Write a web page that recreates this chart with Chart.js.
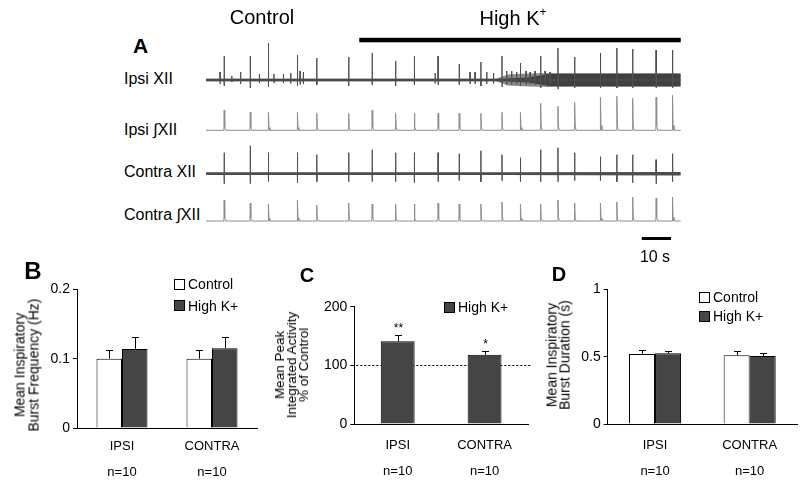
<!DOCTYPE html>
<html>
<head>
<meta charset="utf-8">
<script src="https://cdn.jsdelivr.net/npm/chart.js@4/dist/chart.umd.min.js"></script>
<style>
  html, body { margin:0; padding:0; background:#fff; }
  body { width:800px; height:483px; position:relative; overflow:hidden; font-family:'Liberation Sans', Arial, Helvetica, sans-serif; color:#000; }
  canvas { position:absolute; }
  .t { position:absolute; white-space:nowrap; line-height:1; }
  .c { transform:translate(-50%,-50%); }
  .l { transform:translateY(-50%); }
  .yt { position:absolute; white-space:nowrap; text-align:center; transform:translate(-50%,-50%) rotate(-90deg); }
  .lg { position:absolute; display:flex; align-items:center; transform:translateY(-50%); font-size:14px; line-height:1; white-space:nowrap; }
  .lg i { display:inline-block; width:11px; height:11px; border:1px solid #000; margin-right:3px; box-sizing:border-box; }
</style>
</head>
<body>
<canvas id="traces" width="480" height="250" style="left:206px;top:0px;"></canvas>
<canvas id="chartB" width="265" height="228" style="left:0px;top:255px;"></canvas>
<canvas id="chartC" width="268" height="228" style="left:265px;top:255px;"></canvas>
<canvas id="chartD" width="267" height="228" style="left:533px;top:255px;"></canvas>

<!-- Panel A text -->
<div class="t c" style="left:262px;top:17px;font-size:20px;">Control</div>
<div class="t c" style="left:513px;top:17px;font-size:20px;">High K<sup style="font-size:12px;vertical-align:9px;">+</sup></div>
<div class="t c" style="left:140.5px;top:44.5px;font-size:21px;font-weight:bold;">A</div>
<div class="t l" style="left:124px;top:79px;font-size:16px;">Ipsi XII</div>
<div class="t l" style="left:124px;top:130px;font-size:16px;">Ipsi ∫XII</div>
<div class="t l" style="left:124px;top:172px;font-size:16px;">Contra XII</div>
<div class="t l" style="left:124px;top:215px;font-size:16px;">Contra ∫XII</div>
<div class="t c" style="left:655px;top:257px;font-size:16px;">10 s</div>

<!-- Panel labels -->
<div class="t c" style="left:33px;top:271px;font-size:24px;font-weight:bold;">B</div>
<div class="t c" style="left:307px;top:275px;font-size:20px;font-weight:bold;">C</div>
<div class="t c" style="left:559px;top:274px;font-size:20px;font-weight:bold;">D</div>

<!-- Y titles -->
<div class="yt" style="left:26.5px;top:365px;font-size:14px;line-height:13.5px;">Mean Inspiratory<br>Burst Frequency (Hz)</div>
<div class="yt" style="left:291.7px;top:365px;font-size:13.5px;line-height:12px;">Mean Peak<br>Integrated Activity<br>% of Control</div>
<div class="yt" style="left:557.5px;top:355px;font-size:14px;line-height:12.5px;">Mean Inspiratory<br>Burst Duration (s)</div>

<!-- Legends -->
<div class="lg" style="left:174px;top:284px;"><i style="background:#fff"></i>Control</div>
<div class="lg" style="left:174px;top:305.5px;"><i style="background:#454545"></i>High K+</div>
<div class="lg" style="left:444px;top:307px;"><i style="background:#454545"></i>High K+</div>
<div class="lg" style="left:699px;top:297px;"><i style="background:#fff"></i>Control</div>
<div class="lg" style="left:699px;top:316px;"><i style="background:#454545"></i>High K+</div>

<script>
// ===================== DATA =====================
// Panel A: burst times (s) and amplitudes (arbitrary units)
const burstTimes   = [6.2, 15.1, 21.3, 31.2, 37.8, 48.7, 56.7, 64.7, 71.1, 79.2, 86.4, 93.8, 101.0, 107.3, 114.2, 120.1, 125.8, 134.6, 140.2, 145.6, 153.6, 159.2];
const ipsiRawUp    = [24, 24, 37, 25, 22, 23, 27, 19, 24, 24, 16, 18, 24, 17, 24, 32, 23, 27, 32, 31, 30, 30];
const ipsiRawDown  = [6, 8, 7, 6, 5, 6, 5, 6, 5, 5, 5, 6, 7, 6, 8, 9, 8, 8, 8, 8, 8, 8];
const ipsiIntAmp   = [20, 18, 18, 18, 17, 17, 20, 17, 17, 17, 17, 17, 18, 18, 27, 24, 28, 33, 34, 32, 33, 35];
const contraRawUp  = [21, 28, 21, 21, 19, 21, 24, 21, 21, 21, 20, 23, 19, 16, 24, 26, 21, 17, 19, 19, 14, 20];
const contraRawDown= [10, 10, 8, 9, 8, 8, 8, 8, 9, 8, 7, 8, 7, 8, 8, 8, 7, 7, 8, 9, 10, 8];
const contraIntAmp = [21, 18, 17, 21, 16, 18, 17, 17, 17, 18, 17, 17, 19, 17, 17, 21, 18, 18, 19, 24, 23, 24];
// small extra spikes on the ipsi raw nerve
const ipsiMinorTimes = [4.8, 8.8, 11.8, 18.2, 23.2, 26.4, 28.9, 32.1, 33.2, 78.2, 90.1, 91.8, 95.8, 98.1, 102.6, 104.3, 106.0, 109.2, 110.6, 112.3, 115.7, 117.4];
const ipsiMinorAmp   = [8, 4, 8, 6, 6, 6, 7, 9, 8, 7, 8, 8, 8, 7, 9, 9, 8, 9, 8, 9, 9, 8];
// background activity envelope (half-width) of the raw traces
const ipsiNoiseTimes  = [0, 99, 103, 110, 117, 162];
const ipsiNoiseOuter  = [1.3, 1.3, 5.5, 6.5, 7, 7];
const ipsiNoiseInner  = [1.3, 1.3, 1.6, 2.5, 6, 6];
const contraNoiseTimes = [0, 100, 162];
const contraNoise      = [1.4, 1.4, 1.8];
const traceEnd = 162.0;
const highKStart = 52.3, highKEnd = 162.0;
const scaleBarStart = 148.7, scaleBarSeconds = 10;

// Panels B-D
const groups = ['IPSI', 'CONTRA'];
const groupN = ['n=10', 'n=10'];
const seriesNames = ['Control', 'High K+'];
const freqControl = [0.100, 0.100];
const freqControlErr = [0.013, 0.013];
const freqHighK = [0.114, 0.115];
const freqHighKErr = [0.017, 0.016];
const freqTicks = [0, 0.1, 0.2];
const peakHighK = [141, 118];
const peakHighKErr = [10, 7];
const peakSig = ['**', '*'];
const peakRef = 100;
const peakTicks = [0, 100, 200];
const durControl = [0.52, 0.51];
const durControlErr = [0.03, 0.03];
const durHighK = [0.525, 0.505];
const durHighKErr = [0.02, 0.025];
const durTicks = [0, 0.5, 1];

// ===================== LAYOUT / STYLE =====================
const FONT = "'Liberation Sans', Arial, Helvetica, sans-serif";
Chart.defaults.font.family = FONT;
Chart.defaults.color = '#000';
const lanes = { ipsiRaw: 170, ipsiInt: 119.7, contraRaw: 76.3, contraInt: 29 };
const DARK = '#454545';

function rawTrace(base, times, up, down, minorT, minorA) {
  const ev = times.map((t, i) => ({ t, u: up[i], d: down[i] }))
    .concat((minorT || []).map((t, i) => ({ t, u: minorA[i], d: minorA[i] * 0.5 })))
    .sort((a, b) => a.t - b.t);
  const pts = [{ x: 0, y: base }];
  ev.forEach(e => {
    pts.push({ x: e.t - 0.05, y: base }, { x: e.t, y: base + e.u }, { x: e.t + 0.03, y: base - e.d }, { x: e.t + 0.08, y: base });
  });
  pts.push({ x: traceEnd, y: base });
  return pts;
}
function intTrace(base, times, amp) {
  const pts = [{ x: 0, y: base }];
  times.forEach((t, i) => {
    pts.push({ x: t - 0.1, y: base }, { x: t, y: base + amp[i] }, { x: t + 0.2, y: base + amp[i] * 0.15 }, { x: t + 0.5, y: base });
  });
  pts.push({ x: traceEnd, y: base });
  return pts;
}
function envelope(base, times, hw, sign) {
  return times.map((t, i) => ({ x: t, y: base + sign * hw[i] }));
}
function lineDs(data, color, width) {
  return { data, borderColor: color, borderWidth: width, pointRadius: 0, fill: false, tension: 0 };
}
function bandDs(upper, lower, color) {
  return [
    { data: upper, borderColor: color, borderWidth: 0, pointRadius: 0, fill: '+1', backgroundColor: color, tension: 0 },
    { data: lower, borderColor: color, borderWidth: 0, pointRadius: 0, fill: false, tension: 0 }
  ];
}

const periodBars = {
  id: 'periodBars',
  afterDatasetsDraw(chart) {
    const { ctx, scales: { x } } = chart;
    ctx.save();
    ctx.fillStyle = '#000';
    const x0 = x.getPixelForValue(highKStart), x1 = x.getPixelForValue(highKEnd);
    ctx.fillRect(x0, 37.8, x1 - x0, 4.5);
    const s0 = x.getPixelForValue(scaleBarStart), s1 = x.getPixelForValue(scaleBarStart + scaleBarSeconds);
    ctx.fillRect(s0, 237, s1 - s0, 3);
    ctx.restore();
  }
};

new Chart(document.getElementById('traces'), {
  type: 'line',
  data: {
    datasets: [
      lineDs(rawTrace(lanes.ipsiRaw, burstTimes, ipsiRawUp, ipsiRawDown, ipsiMinorTimes, ipsiMinorAmp), '#505050', 1),
      lineDs(intTrace(lanes.ipsiInt, burstTimes, ipsiIntAmp), '#8c8c8c', 1),
      lineDs(rawTrace(lanes.contraRaw, burstTimes, contraRawUp, contraRawDown), '#505050', 1),
      lineDs(intTrace(lanes.contraInt, burstTimes, contraIntAmp), '#8c8c8c', 1),
      ...bandDs(envelope(lanes.ipsiRaw, ipsiNoiseTimes, ipsiNoiseInner, 1), envelope(lanes.ipsiRaw, ipsiNoiseTimes, ipsiNoiseInner, -1), '#404040'),
      ...bandDs(envelope(lanes.ipsiRaw, ipsiNoiseTimes, ipsiNoiseOuter, 1), envelope(lanes.ipsiRaw, ipsiNoiseTimes, ipsiNoiseOuter, -1), '#8a8a8a'),
      ...bandDs(envelope(lanes.contraRaw, contraNoiseTimes, contraNoise, 1), envelope(lanes.contraRaw, contraNoiseTimes, contraNoise, -1), '#4a4a4a')
    ]
  },
  options: {
    animation: false, responsive: false, events: [],
    layout: { padding: 0 },
    plugins: { legend: { display: false }, tooltip: { enabled: false } },
    scales: {
      x: { type: 'linear', min: 0, max: 163.8, display: false },
      y: { type: 'linear', min: 0, max: 250, display: false }
    }
  },
  plugins: [periodBars]
});

// ---------- bar charts ----------
const errorBars = {
  id: 'errorBars',
  afterDatasetsDraw(chart) {
    const ctx = chart.ctx, y = chart.scales.y;
    chart.data.datasets.forEach((ds, di) => {
      if (!ds.errors) return;
      const meta = chart.getDatasetMeta(di);
      meta.data.forEach((bar, i) => {
        const top = y.getPixelForValue(ds.data[i] + ds.errors[i]);
        const bx = Math.round(bar.x) + 0.5, ty = Math.round(top) + 0.5;
        ctx.save();
        ctx.strokeStyle = '#000'; ctx.lineWidth = 1;
        ctx.beginPath();
        ctx.moveTo(bx, bar.y); ctx.lineTo(bx, ty);
        ctx.moveTo(bx - 3.5, ty); ctx.lineTo(bx + 3.5, ty);
        ctx.stroke();
        if (ds.sig) {
          ctx.fillStyle = '#000';
          ctx.font = '12px ' + FONT;
          ctx.textAlign = 'center'; ctx.textBaseline = 'bottom';
          ctx.fillText(ds.sig[i], bx, ty - 1);
        }
        ctx.restore();
      });
    });
  }
};
const refLine = {
  id: 'refLine',
  beforeDatasetsDraw(chart, args, opts) {
    if (opts.value === undefined) return;
    const { ctx, chartArea, scales: { y } } = chart;
    const py = Math.round(y.getPixelForValue(opts.value)) + 0.5;
    ctx.save();
    ctx.strokeStyle = '#000'; ctx.lineWidth = 1; ctx.setLineDash([2, 2]);
    ctx.beginPath(); ctx.moveTo(chartArea.left + 2, py); ctx.lineTo(chartArea.right + 3, py); ctx.stroke();
    ctx.restore();
  }
};

function barChart(id, cfg) {
  const labels = groups.map((g, i) => [g, '', groupN[i]]);
  return new Chart(document.getElementById(id), {
    type: 'bar',
    data: { labels, datasets: cfg.datasets },
    options: {
      animation: false, responsive: false, events: [],
      layout: { padding: { top: cfg.top, right: cfg.right, left: 0, bottom: 0 } },
      datasets: { bar: { categoryPercentage: cfg.catPct, barPercentage: 1, borderColor: '#000', borderWidth: 1 } },
      plugins: { legend: { display: false }, tooltip: { enabled: false }, refLine: { value: cfg.ref } },
      scales: {
        x: {
          grid: { display: false, drawTicks: false },
          border: { display: true, color: '#000', width: 1 },
          ticks: { padding: cfg.xPad, font: { size: 13, lineHeight: 1.0 }, color: '#000', maxRotation: 0, autoSkip: false },
          afterFit(s) { s.height = cfg.xH; }
        },
        y: {
          min: cfg.ticks[0], max: cfg.ticks[cfg.ticks.length - 1],
          afterBuildTicks(s) { s.ticks = cfg.ticks.map(v => ({ value: v })); },
          ticks: { padding: 3, font: { size: 14 }, color: '#000', callback: v => String(v) },
          grid: { display: true, drawOnChartArea: false, drawTicks: true, tickLength: 4, color: '#000' },
          border: { display: true, color: '#000', width: 1 },
          afterFit(s) { s.width = cfg.yW; }
        }
      }
    },
    plugins: [refLine, errorBars]
  });
}

barChart('chartB', {
  datasets: [
    { label: seriesNames[0], data: freqControl, errors: freqControlErr, backgroundColor: '#fff' },
    { label: seriesNames[1], data: freqHighK, errors: freqHighKErr, backgroundColor: DARK }
  ],
  ticks: freqTicks, top: 34.3, right: 8, yW: 77, xH: 55, xPad: 11.5, catPct: 0.567
});
barChart('chartC', {
  datasets: [
    { label: seriesNames[1], data: peakHighK, errors: peakHighKErr, sig: peakSig, backgroundColor: DARK }
  ],
  ticks: peakTicks, top: 51.7, right: 5, yW: 89.3, xH: 59, xPad: 15, catPct: 0.39, ref: peakRef
});
barChart('chartD', {
  datasets: [
    { label: seriesNames[0], data: durControl, errors: durControlErr, backgroundColor: '#fff' },
    { label: seriesNames[1], data: durHighK, errors: durHighKErr, backgroundColor: DARK }
  ],
  ticks: durTicks, top: 34.3, right: 3, yW: 74.7, xH: 59, xPad: 15, catPct: 0.55
});
</script>
</body>
</html>
